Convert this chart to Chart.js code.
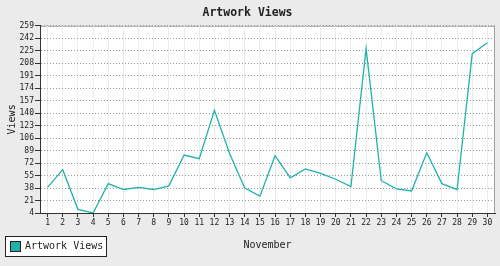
<!DOCTYPE html>
<html><head><meta charset="utf-8">
<script src="https://cdn.jsdelivr.net/npm/chart.js@4/dist/chart.umd.min.js"></script>
<style>html,body{margin:0;padding:0;background:#ebebeb;}#wrap{width:500px;height:266px;}</style>
</head><body><div id="wrap"><canvas id="c" width="500" height="266"></canvas></div>
<script>
const days = ['1','2','3','4','5','6','7','8','9','10','11','12','13','14','15','16','17','18','19','20','21','22','23','24','25','26','27','28','29','30'];
const views = [39,63,9,4,44,36,39,36,41,83,78,144,85,38,27,82,52,64,58,50,40,228,48,37,34,86,44,36,221,236];
const yMin = 4, yMax = 259, yStep = 17;
const seriesLabel = 'Artwork Views';
const titleText = 'Artwork Views';
const xTitle = 'November';
const yTitle = 'Views';
const lineColor = '#20b2aa';
const MONO = '"DejaVu Sans Mono", "Liberation Mono", monospace';

const frame = {
  id: 'frame',
  beforeDraw(chart) {
    const {ctx, chartArea: a} = chart;
    ctx.save();
    ctx.fillStyle = '#ffffff';
    ctx.fillRect(a.left, a.top, a.right - a.left, a.bottom - a.top);
    ctx.strokeStyle = '#a0a0a0';
    ctx.lineWidth = 1;
    ctx.strokeRect(a.left + 0.5, a.top + 0.5, a.right - a.left - 1, a.bottom - a.top);
    ctx.restore();
  },
  afterDraw(chart) {
    const {ctx} = chart;
    const ds = chart.data.datasets[0];
    ctx.save();
    ctx.fillStyle = '#ffffff';
    ctx.fillRect(5, 236, 101, 20);
    ctx.strokeStyle = '#222';
    ctx.lineWidth = 1;
    ctx.strokeRect(5.5, 236.5, 101, 20);
    ctx.fillStyle = ds.borderColor;
    ctx.fillRect(10, 241, 10, 10);
    ctx.strokeRect(10.5, 241.5, 10, 10);
    ctx.fillStyle = '#222';
    ctx.font = '10px ' + MONO;
    ctx.textBaseline = 'middle';
    ctx.fillText(ds.label, 25, 246.5);
    ctx.restore();
  }
};

new Chart(document.getElementById('c'), {
  type: 'line',
  data: {
    labels: days,
    datasets: [{
      label: seriesLabel,
      data: views,
      borderColor: lineColor,
      backgroundColor: lineColor,
      borderWidth: 1.3,
      pointRadius: 0,
      tension: 0,
      fill: false
    }]
  },
  options: {
    responsive: false,
    animation: false,
    devicePixelRatio: 1,
    layout: {padding: {left: 0, right: 5, top: 0, bottom: 0}},
    plugins: {
      legend: {display: false},
      tooltip: {enabled: false},
      title: {
        display: true,
        text: titleText,
        color: '#222',
        font: {family: MONO, size: 11.5, weight: 'bold'},
        padding: {top: 6, bottom: 6}
      }
    },
    scales: {
      x: {
        offset: true,
        grid: {offset: false, color: '#ececec', lineWidth: 1, drawTicks: true, tickLength: 4, tickColor: '#333'},
        border: {color: '#333', width: 1},
        ticks: {color: '#222', font: {family: MONO, size: 8}, padding: 1, maxRotation: 0, autoSkip: false},
        title: {display: true, text: xTitle, color: '#222', font: {family: MONO, size: 10}, padding: {top: 0, bottom: 15}},
        afterFit(s) { s.height = 53; }
      },
      y: {
        min: yMin, max: yMax,
        afterBuildTicks(s) {
          const t = [];
          for (let v = yMin; v <= yMax; v += yStep) t.push({value: v});
          s.ticks = t;
        },
        grid: {color: '#999', lineWidth: 1, drawTicks: true, tickLength: 5, tickColor: '#333'},
        border: {color: '#333', width: 1, dash: [1, 2]},
        ticks: {color: '#222', font: {family: MONO, size: 8}, padding: 1, autoSkip: false},
        title: {display: true, text: yTitle, color: '#222', font: {family: MONO, size: 10}, padding: {top: 6, bottom: 0}},
        afterFit(s) { s.width = 40; }
      }
    }
  },
  plugins: [frame]
});
</script>
</body></html>
